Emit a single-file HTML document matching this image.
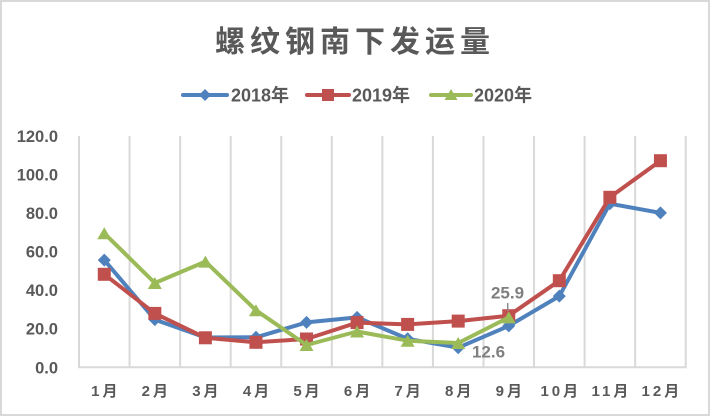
<!DOCTYPE html>
<html>
<head>
<meta charset="utf-8">
<style>
  html,body{margin:0;padding:0;background:#fff;}
  body{width:710px;height:416px;overflow:hidden;}
  svg{display:block;}
  text{font-family:"Liberation Sans","Noto Sans CJK SC",sans-serif;}
</style>
</head>
<body>
<svg width="710" height="416" viewBox="0 0 710 416" xmlns="http://www.w3.org/2000/svg">
  <rect x="1" y="1" width="708" height="414" fill="#fff" stroke="#d9d9d9" stroke-width="2"/>

  <!-- Title -->
  <text x="215" y="52" font-size="30" font-weight="bold" fill="#595959" letter-spacing="5" style="font-family:'Noto Sans CJK SC',sans-serif;">螺纹钢南下发运量</text>

  <!-- Legend -->
  <g>
    <line x1="183" y1="95" x2="227" y2="95" stroke="#4f81bd" stroke-width="4" stroke-linecap="round"/>
    <polygon points="205,89 211,95 205,101 199,95" fill="#4f81bd"/>
    <text x="231" y="101.5" font-size="18" font-weight="bold" fill="#595959">2018年</text>

    <line x1="307" y1="95" x2="349" y2="95" stroke="#c0504d" stroke-width="4" stroke-linecap="round"/>
    <rect x="322" y="89" width="12" height="12" fill="#c0504d"/>
    <text x="352" y="101.5" font-size="18" font-weight="bold" fill="#595959">2019年</text>

    <line x1="431" y1="95" x2="471" y2="95" stroke="#9bbb59" stroke-width="4" stroke-linecap="round"/>
    <polygon points="451,89 457.5,100 444.5,100" fill="#9bbb59"/>
    <text x="474" y="101.5" font-size="18" font-weight="bold" fill="#595959">2020年</text>
  </g>

  <!-- Gridlines -->
  <g stroke="#d9d9d9" stroke-width="2">
    <line x1="79" y1="136" x2="79" y2="367.3"/>
    <line x1="129.56" y1="136" x2="129.56" y2="367.3"/>
    <line x1="180.12" y1="136" x2="180.12" y2="367.3"/>
    <line x1="230.68" y1="136" x2="230.68" y2="367.3"/>
    <line x1="281.24" y1="136" x2="281.24" y2="367.3"/>
    <line x1="331.8" y1="136" x2="331.8" y2="367.3"/>
    <line x1="382.36" y1="136" x2="382.36" y2="367.3"/>
    <line x1="432.92" y1="136" x2="432.92" y2="367.3"/>
    <line x1="483.48" y1="136" x2="483.48" y2="367.3"/>
    <line x1="534.04" y1="136" x2="534.04" y2="367.3"/>
    <line x1="584.6" y1="136" x2="584.6" y2="367.3"/>
    <line x1="635.16" y1="136" x2="635.16" y2="367.3"/>
    <line x1="685.72" y1="136" x2="685.72" y2="367.3"/>
    <line x1="78" y1="367.3" x2="686.7" y2="367.3"/>
  </g>

  <!-- Y axis labels -->
  <g font-size="16.5" font-weight="bold" fill="#595959" text-anchor="end">
    <text x="58" y="142">120.0</text>
    <text x="58" y="180.5">100.0</text>
    <text x="58" y="219">80.0</text>
    <text x="58" y="257.5">60.0</text>
    <text x="58" y="296">40.0</text>
    <text x="58" y="334.5">20.0</text>
    <text x="58" y="373.3">0.0</text>
  </g>

  <!-- X axis labels -->
  <g font-size="15" font-weight="bold" fill="#595959" text-anchor="middle" letter-spacing="3">
    <text x="105.8" y="396">1月</text>
    <text x="156.3" y="396">2月</text>
    <text x="206.9" y="396">3月</text>
    <text x="257.5" y="396">4月</text>
    <text x="308" y="396">5月</text>
    <text x="358.6" y="396">6月</text>
    <text x="409.1" y="396">7月</text>
    <text x="459.7" y="396">8月</text>
    <text x="510.3" y="396">9月</text>
    <text x="560.8" y="396">10月</text>
    <text x="611.4" y="396">11月</text>
    <text x="661.9" y="396">12月</text>
  </g>

  <!-- 2018 series -->
  <polyline fill="none" stroke="#4f81bd" stroke-width="4" stroke-linejoin="round" stroke-linecap="round"
    points="104.28,260.1 154.84,319.6 205.4,337.5 255.96,337.3 306.52,322.4 357.08,317.4 407.64,338.8 458.2,347.7 508.76,325.9 559.32,296.1 609.88,203.7 660.44,212.9"/>
  <g fill="#4f81bd">
    <polygon points="104.28,253.6 110.78,260.1 104.28,266.6 97.78,260.1"/>
    <polygon points="154.84,313.1 161.34,319.6 154.84,326.1 148.34,319.6"/>
    <polygon points="205.4,331 211.9,337.5 205.4,344 198.9,337.5"/>
    <polygon points="255.96,330.8 262.46,337.3 255.96,343.8 249.46,337.3"/>
    <polygon points="306.52,315.9 313.02,322.4 306.52,328.9 300.02,322.4"/>
    <polygon points="357.08,310.9 363.58,317.4 357.08,323.9 350.58,317.4"/>
    <polygon points="407.64,332.3 414.14,338.8 407.64,345.3 401.14,338.8"/>
    <polygon points="458.2,341.2 464.7,347.7 458.2,354.2 451.7,347.7"/>
    <polygon points="508.76,319.4 515.26,325.9 508.76,332.4 502.26,325.9"/>
    <polygon points="559.32,289.6 565.82,296.1 559.32,302.6 552.82,296.1"/>
    <polygon points="609.88,197.2 616.38,203.7 609.88,210.2 603.38,203.7"/>
    <polygon points="660.44,206.4 666.94,212.9 660.44,219.4 653.94,212.9"/>
  </g>

  <!-- 2019 series -->
  <polyline fill="none" stroke="#c0504d" stroke-width="4" stroke-linejoin="round" stroke-linecap="round"
    points="104.28,274.3 154.84,313.4 205.4,337.8 255.96,342.3 306.52,339 357.08,322.6 407.64,324.4 458.2,321.1 508.76,315.7 559.32,280.7 609.88,197.3 660.44,160.7"/>
  <g fill="#c0504d">
    <rect x="97.78" y="267.8" width="13" height="13"/>
    <rect x="148.34" y="306.9" width="13" height="13"/>
    <rect x="198.9" y="331.3" width="13" height="13"/>
    <rect x="249.46" y="335.8" width="13" height="13"/>
    <rect x="300.02" y="332.5" width="13" height="13"/>
    <rect x="350.58" y="316.1" width="13" height="13"/>
    <rect x="401.14" y="317.9" width="13" height="13"/>
    <rect x="451.7" y="314.6" width="13" height="13"/>
    <rect x="502.26" y="309.2" width="13" height="13"/>
    <rect x="552.82" y="274.2" width="13" height="13"/>
    <rect x="603.38" y="190.8" width="13" height="13"/>
    <rect x="653.94" y="154.2" width="13" height="13"/>
  </g>

  <!-- 2020 series -->
  <polyline fill="none" stroke="#9bbb59" stroke-width="4" stroke-linejoin="round" stroke-linecap="round"
    points="104.28,233.3 154.84,283 205.4,261.6 255.96,310.3 306.52,345 357.08,331.5 407.64,340.7 458.2,343 508.76,317.4"/>
  <g fill="#9bbb59">
    <polygon points="104.28,227.3 111.28,239.3 97.28,239.3"/>
    <polygon points="154.84,277 161.84,289 147.84,289"/>
    <polygon points="205.4,255.6 212.4,267.6 198.4,267.6"/>
    <polygon points="255.96,304.3 262.96,316.3 248.96,316.3"/>
    <polygon points="306.52,339 313.52,351 299.52,351"/>
    <polygon points="357.08,325.5 364.08,337.5 350.08,337.5"/>
    <polygon points="407.64,334.7 414.64,346.7 400.64,346.7"/>
    <polygon points="458.2,337 465.2,349 451.2,349"/>
    <polygon points="508.76,311.4 515.76,323.4 501.76,323.4"/>
  </g>

  <!-- Data labels -->
  <line x1="507.7" y1="303" x2="507.7" y2="311" stroke="#8c8c8c" stroke-width="1.5"/>
  <g font-size="17" font-weight="bold" fill="#7f7f7f" text-anchor="middle">
    <text x="507.5" y="298.5">25.9</text>
    <text x="488.5" y="357.5">12.6</text>
  </g>
</svg>
</body>
</html>
